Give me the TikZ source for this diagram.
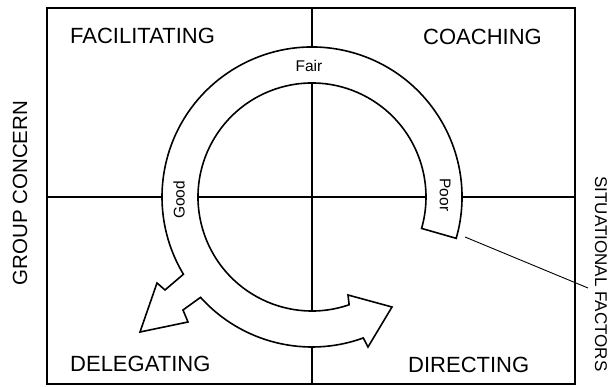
\documentclass[tikz,border=0pt]{standalone}
\usepackage{fontspec}
\setmainfont{Liberation Sans}
\usetikzlibrary{calc}
\begin{document}
\begin{tikzpicture}[x=1pt,y=1pt,
  frame/.style={line width=1.6pt},
  ringline/.style={line width=1.6pt, fill=white, line join=miter},
  quad/.style={font=\fontsize{22}{22}\selectfont, inner sep=0pt},
  axis/.style={font=\fontsize{20.5}{20.5}\selectfont, inner sep=0pt},
  small/.style={font=\fontsize{15.5}{15.5}\selectfont, inner sep=0pt},
  leader/.style={line width=0.9pt}]
\useasboundingbox (0,0) rectangle (610,387);
% frame and quadrant lines
\draw[frame] (47,3) rectangle (575,379);
\draw[frame] (47,190) -- (575,190);
\draw[frame] (312,3) -- (312,379);
% ring
\coordinate (c) at (312,190);
\draw[ringline] ($(c)+(-16:150)$) arc[start angle=-16, end angle=211, radius=150]
  -- (165,97) -- (157,104) -- (140,55) -- (188,65) -- (183,77)
  -- ($(c)+(222:150)$) arc[start angle=222, end angle=290, radius=150]
  -- (368,40) -- (392,80) -- (348,92)
  -- ($(c)+(289:114)$) arc[start angle=289, end angle=-16, radius=114]
  -- cycle;
% labels
\node[quad, anchor=base west] (fac) at (70,343) {FACILITATING};
\node[quad, anchor=base west] (coa) at (423,342) {COACHING};
\node[quad, anchor=base west] (del) at (70,15) {DELEGATING};
\node[quad, anchor=base west] (dir) at (408,14) {DIRECTING};
\node[small] (fair) at (309,321) {Fair};
\node[small, rotate=90] (good) at (179,187) {Good};
\node[small, rotate=-90] (poor) at (445,192) {Poor};
\node[axis, rotate=90] (grp) at (20,194) {GROUP CONCERN};
\node[font=\fontsize{17}{17}\selectfont, inner sep=0pt, rotate=-90] (sit) at (601,113) {SITUATIONAL FACTORS};
% leader line
\coordinate (poorend) at (465,150);
\coordinate (leadend) at (588,99);
\draw[leader] (poorend) -- (leadend);
\end{tikzpicture}
\end{document}
